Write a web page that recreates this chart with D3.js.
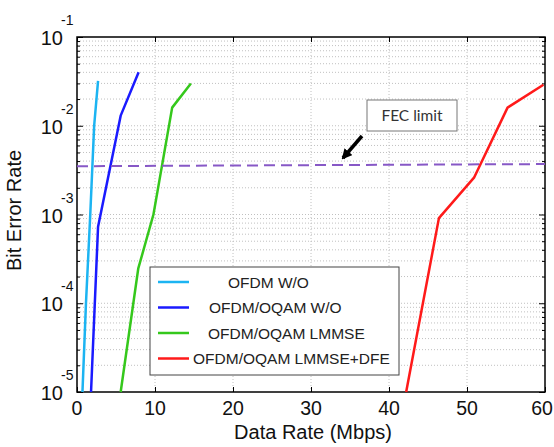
<!DOCTYPE html>
<html>
<head>
<meta charset="utf-8">
<script src="https://cdn.jsdelivr.net/npm/d3@7"></script>
<style>
  body { margin: 0; background: #fff; }
  svg { display: block; }
  .grid line { stroke: #c0c0c0; stroke-dasharray: 1 2; stroke-width: 1; }
  .axis path, .axis line { stroke: #000; }
  .tick-lbl { font-family: "Liberation Sans", Arial, sans-serif; fill: #111; }
</style>
</head>
<body>
<div id="chart"></div>
<script>
"use strict"

// ---- data ----
const seriesNames = ["OFDM W/O", "OFDM/OQAM W/O", "OFDM/OQAM LMMSE", "OFDM/OQAM LMMSE+DFE"];
const seriesColors = ["#1cb4f2", "#1a1aff", "#35c81c", "#ff1a1a"];

const ofdmRate = [0.7, 1.15, 1.7, 2.2, 2.7];
const ofdmBer  = [1e-5, 1e-4, 1e-3, 1e-2, 3.2e-2];

const oqamRate = [1.8, 2.7, 5.6, 7.9];
const oqamBer  = [1e-5, 7.3e-4, 1.3e-2, 4.0e-2];

const lmmseRate = [5.6, 7.85, 9.8, 12.2, 14.6];
const lmmseBer  = [1e-5, 2.45e-4, 1e-3, 1.6e-2, 3.0e-2];

const dfeRate = [42.2, 46.4, 50.9, 55.2, 59.8];
const dfeBer  = [1e-5, 9.1e-4, 2.6e-3, 1.6e-2, 2.9e-2];

const fecRate = [0, 60];
const fecBer  = [3.5e-3, 3.7e-3];

const xTicks = [0, 10, 20, 30, 40, 50, 60];
const yDecades = [-5, -4, -3, -2, -1];

// ---- layout ----
const W = 554, H = 447;
const margin = {top: 37, right: 9, bottom: 55, left: 77};
const iw = W - margin.left - margin.right;
const ih = H - margin.top - margin.bottom;

const svg = d3.select("#chart").append("svg")
    .attr("width", W).attr("height", H);
const g = svg.append("g").attr("transform", `translate(${margin.left},${margin.top})`);

const x = d3.scaleLinear().domain([0, 60]).range([0, iw]);
const y = d3.scaleLog().domain([1e-5, 1e-1]).range([ih, 0]);

// minor log ticks 2..9 per decade
let minorVals = [];
yDecades.slice(0, -1).forEach(function(e) {
    for (let m = 2; m <= 9; m++) minorVals.push(m * Math.pow(10, e));
});
const majorVals = yDecades.map(e => Math.pow(10, e));

// grid
const grid = g.append("g").attr("class", "grid");
grid.selectAll(".gx").data(xTicks.slice(1, -1)).enter().append("line")
    .attr("x1", d => x(d)).attr("x2", d => x(d))
    .attr("y1", 0).attr("y2", ih);
grid.selectAll(".gy").data(minorVals.concat(majorVals.slice(1, -1))).enter().append("line")
    .attr("x1", 0).attr("x2", iw)
    .attr("y1", d => y(d)).attr("y2", d => y(d));

// axes with inside ticks on all four sides
function styleAxis(sel) {
    sel.attr("class", "axis");
    sel.select(".domain").remove();
    sel.selectAll("line").attr("stroke-width", 1);
}
g.append("g").attr("transform", `translate(0,${ih})`)
    .call(d3.axisBottom(x).tickValues(xTicks).tickSize(-5).tickFormat("")).call(styleAxis);
g.append("g")
    .call(d3.axisTop(x).tickValues(xTicks).tickSize(-5).tickFormat("")).call(styleAxis);
g.append("g")
    .call(d3.axisLeft(y).tickValues(majorVals).tickSize(-6).tickFormat("")).call(styleAxis);
g.append("g")
    .call(d3.axisLeft(y).tickValues(minorVals).tickSize(-3).tickFormat("")).call(styleAxis);
g.append("g").attr("transform", `translate(${iw},0)`)
    .call(d3.axisRight(y).tickValues(majorVals).tickSize(-6).tickFormat("")).call(styleAxis);
g.append("g").attr("transform", `translate(${iw},0)`)
    .call(d3.axisRight(y).tickValues(minorVals).tickSize(-3).tickFormat("")).call(styleAxis);

// frame
g.append("rect").attr("width", iw).attr("height", ih)
    .attr("fill", "none").attr("stroke", "#000").attr("stroke-width", 1.5);

// tick labels (last one nudged so it stays inside the picture)
g.selectAll(".xl").data(xTicks).enter().append("text")
    .attr("class", "tick-lbl")
    .attr("x", d => x(d)).attr("y", ih + 23)
    .attr("dx", (d, i) => i === xTicks.length - 1 ? -3 : 0)
    .attr("text-anchor", "middle")
    .style("font-size", "19.5px")
    .text(d => d);

const yl = g.selectAll(".yl").data(yDecades).enter().append("g")
    .attr("transform", d => `translate(-14,${y(Math.pow(10, d))})`);
yl.append("text").attr("class", "tick-lbl")
    .attr("text-anchor", "end").attr("y", 8)
    .style("font-size", "20px").text("10");
yl.append("text").attr("class", "tick-lbl")
    .attr("x", -2).attr("y", -12)
    .style("font-size", "14px").text(d => d);

// axis titles
g.append("text").attr("class", "tick-lbl")
    .attr("x", iw / 2 + 2).attr("y", ih + 47)
    .attr("text-anchor", "middle").style("font-size", "20px")
    .text("Data Rate (Mbps)");
g.append("text").attr("class", "tick-lbl")
    .attr("transform", `translate(${-56},${ih / 2 - 4}) rotate(-90)`)
    .attr("text-anchor", "middle").style("font-size", "20px")
    .text("Bit Error Rate");

// curves
const line = d3.line().x(d => x(d[0])).y(d => y(d[1]));
const seriesData = [
    d3.zip(ofdmRate, ofdmBer),
    d3.zip(oqamRate, oqamBer),
    d3.zip(lmmseRate, lmmseBer),
    d3.zip(dfeRate, dfeBer)
];
g.selectAll(".curve").data(seriesData).enter().append("path")
    .attr("class", "curve")
    .attr("d", line)
    .attr("fill", "none")
    .attr("stroke", (d, i) => seriesColors[i])
    .attr("stroke-width", 2.5)
    .attr("stroke-linejoin", "round");

// FEC limit dashed line
g.append("path")
    .datum(d3.zip(fecRate, fecBer))
    .attr("d", line)
    .attr("fill", "none")
    .attr("stroke", "#8758c6")
    .attr("stroke-width", 2)
    .attr("stroke-dasharray", "11 6");

// FEC annotation box and arrow
const ann = svg.append("g");
ann.append("rect").attr("x", 367).attr("y", 100).attr("width", 90).attr("height", 31)
    .attr("fill", "#fff").attr("stroke", "#777").attr("stroke-width", 1);
ann.append("text").attr("x", 412).attr("y", 121)
    .attr("text-anchor", "middle")
    .style("font-family", "Lato, 'Open Sans', sans-serif").style("font-size", "15.5px")
    .style("fill", "#333").text("FEC limit");
svg.append("defs").append("marker")
    .attr("id", "arrowhead").attr("viewBox", "0 0 10 10")
    .attr("refX", 8).attr("refY", 5)
    .attr("markerWidth", 3).attr("markerHeight", 3)
    .attr("orient", "auto")
    .append("path").attr("d", "M0,0 L10,5 L0,10 z").attr("fill", "#000");
ann.append("line")
    .attr("x1", 362).attr("y1", 136).attr("x2", 343).attr("y2", 158)
    .attr("stroke", "#000").attr("stroke-width", 3.5)
    .attr("marker-end", "url(#arrowhead)");

// legend
const legendIndent = [78, 59, 58, 43];
const leg = svg.append("g").attr("transform", "translate(150,267)");
leg.append("rect").attr("width", 249).attr("height", 108)
    .attr("fill", "#fff").attr("stroke", "#444").attr("stroke-width", 1);
const rows = leg.selectAll(".row").data(seriesNames).enter().append("g")
    .attr("transform", (d, i) => `translate(0,${15 + i * 25.5})`);
rows.append("line").attr("x1", 8).attr("x2", 39)
    .attr("stroke", (d, i) => seriesColors[i]).attr("stroke-width", 2.5);
rows.append("text")
    .attr("x", (d, i) => legendIndent[i]).attr("y", 5.5)
    .style("font-family", "'Liberation Sans', Arial, sans-serif")
    .style("font-size", "15.5px").style("fill", "#222")
    .text(d => d);
</script>
</body>
</html>
